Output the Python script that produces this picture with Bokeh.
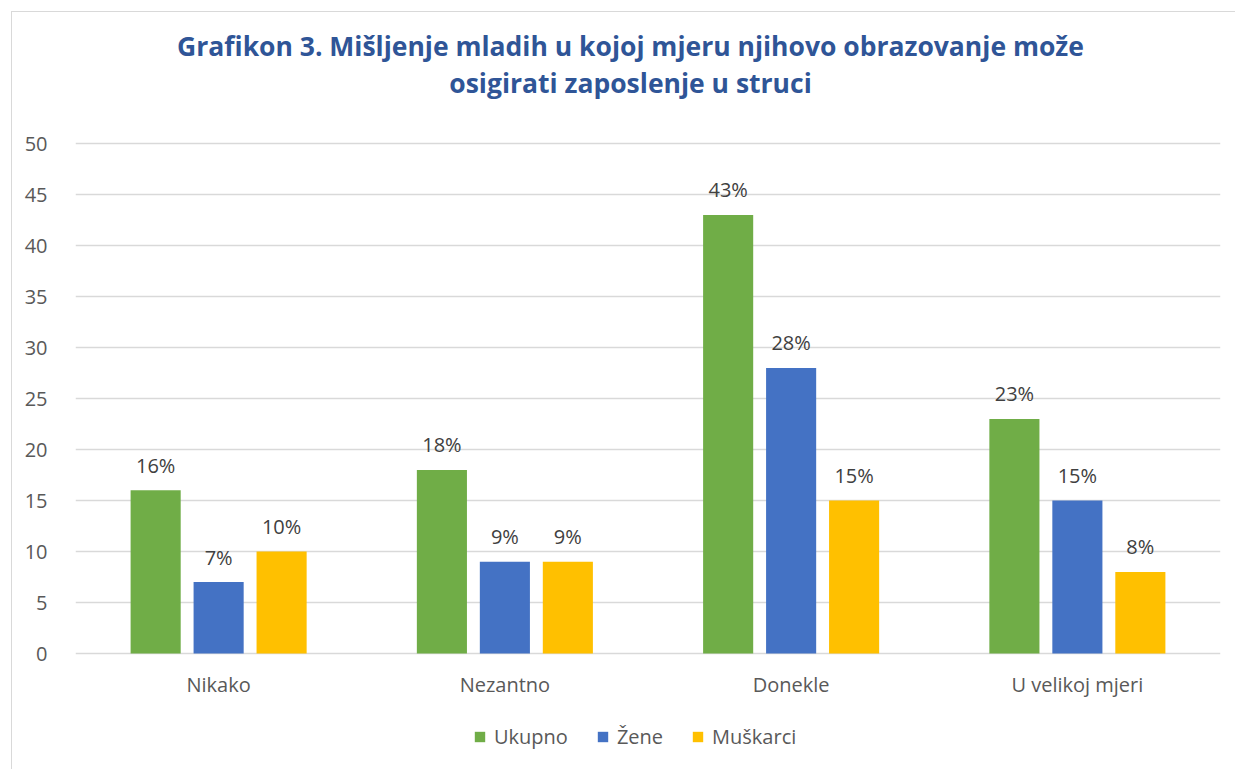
from bokeh.plotting import figure
from bokeh.models import (FactorRange, Range1d, ColumnDataSource, Legend, LegendItem,
                          Label, FixedTicker, InlineStyleSheet)
from bokeh.transform import dodge
from bokeh.embed import file_html
from bokeh.resources import INLINE
from bokeh.core.properties import value

categories = ["Nikako", "Nezantno", "Donekle", "U velikoj mjeri"]
series_names = ["Ukupno", "Žene", "Muškarci"]
ukupno = [16, 18, 43, 23]
zene = [7, 9, 28, 15]
muskarci = [10, 9, 15, 8]
y_ticks = [0, 5, 10, 15, 20, 25, 30, 35, 40, 45, 50]
colors = ["#70AD47", "#4472C4", "#FFC000"]
title_lines = ["Grafikon 3. Mišljenje mladih u kojoj mjeru njihovo obrazovanje može",
               "osigirati zaposlenje u struci"]

FONT = "Open Sans"
W, H = 1235, 769
LEFT, RIGHT = 75, 15
Y0_PX, Y50_PX = 653, 143          # pixel rows of value 0 and value 50
px_per_unit = (Y0_PX - Y50_PX) / 50.0
y_top = 50 + Y50_PX / px_per_unit
y_bot = -(H - Y0_PX) / px_per_unit

src = ColumnDataSource(dict(
    cat=categories, ukupno=ukupno, zene=zene, muskarci=muskarci,
    l_ukupno=[f"{v}%" for v in ukupno],
    l_zene=[f"{v}%" for v in zene],
    l_muskarci=[f"{v}%" for v in muskarci],
))

p = figure(width=W, height=H, x_range=FactorRange(*categories),
           y_range=Range1d(y_bot, y_top), x_axis_location=None,
           output_backend="svg", toolbar_location=None,
           min_border_left=LEFT, min_border_right=RIGHT, min_border_top=0, min_border_bottom=0)

p.outline_line_color = None
p.background_fill_color = "white"
p.border_fill_color = "white"

# light chart-area border (left and top edges), drawn with CSS
p.stylesheets = [InlineStyleSheet(css="""
:host::after {
  content: ""; position: absolute; left: 11px; top: 11px; right: 0; bottom: 0;
  border-left: 1.5px solid #d9d9d9; border-top: 1.5px solid #d9d9d9;
  pointer-events: none;
}
""")]

# title lines (frame-relative screen units; frame spans full height)
for txt, yy in zip(title_lines, [H - 45, H - 82]):
    p.add_layout(Label(x=630 - LEFT, y=yy, x_units="screen", y_units="screen", text=txt,
                       text_align="center", text_baseline="middle", text_font=FONT,
                       text_font_size="26.5px", text_font_style="bold", text_color="#2F5597"))

offsets = [-0.22, 0.0, 0.22]
fields = ["ukupno", "zene", "muskarci"]
renderers = []
for off, f, c in zip(offsets, fields, colors):
    r = p.vbar(x=dodge("cat", off, range=p.x_range), top=f, width=0.175, source=src,
               fill_color=c, line_color=None)
    renderers.append(r)
    p.text(x=dodge("cat", off, range=p.x_range), y=f, text="l_" + f, source=src,
           text_align="center", text_baseline="middle", y_offset=-25,
           text_font=value(FONT), text_font_size="20px", text_color="#404040")

# category labels under the zero line
p.text(x="cat", y=0, text="cat", source=src, text_align="center", text_baseline="middle",
       y_offset=31, text_font=value(FONT), text_font_size="20px", text_color="#595959")

legend = Legend(items=[LegendItem(label=n, renderers=[r]) for n, r in zip(series_names, renderers)],
                orientation="horizontal", location=(398, 19),
                label_text_font=FONT, label_text_font_size="20px", label_text_color="#595959",
                glyph_width=13, glyph_height=13, spacing=28, label_standoff=8,
                border_line_color=None, background_fill_alpha=0, padding=0, margin=0)
p.add_layout(legend, "center")

p.yaxis.ticker = FixedTicker(ticks=y_ticks)
p.yaxis.axis_line_color = None
p.yaxis.major_tick_line_color = None
p.yaxis.minor_tick_line_color = None
p.yaxis.major_label_standoff = 22
p.yaxis.major_label_text_font = FONT
p.yaxis.major_label_text_font_size = "20px"
p.yaxis.major_label_text_color = "#595959"

p.xgrid.visible = False
p.ygrid.grid_line_color = "#d9d9d9"
p.ygrid.grid_line_width = 1.5

open("out.html", "w").write(file_html(p, INLINE))
